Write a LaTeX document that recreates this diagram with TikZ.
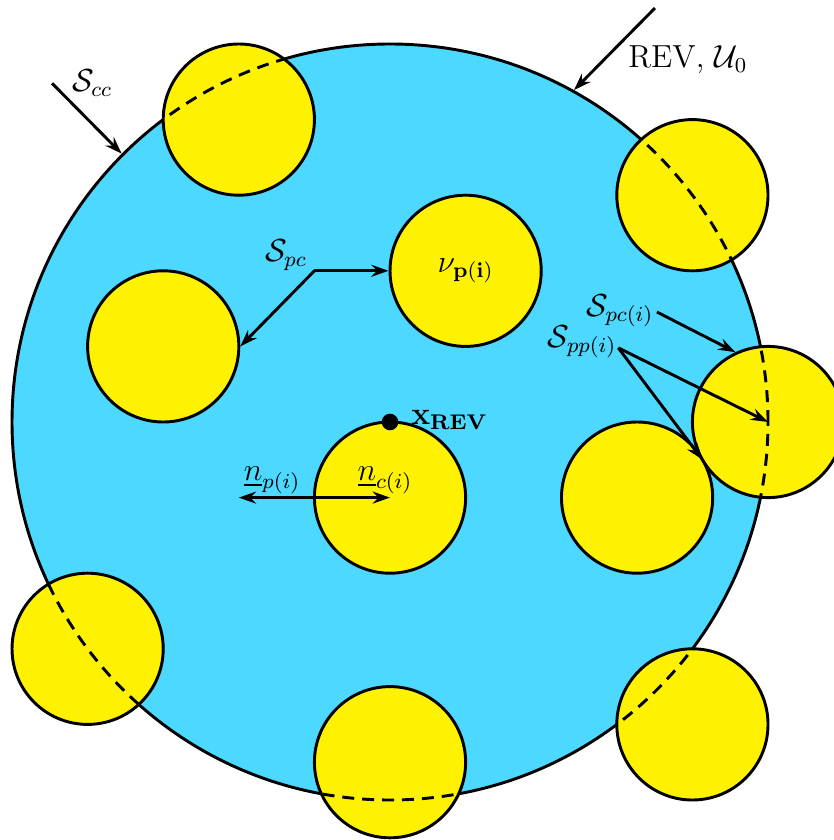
\documentclass[tikz,border=0pt]{standalone}
\usepackage{amsmath}
\usepackage{tikz}
\usetikzlibrary{arrows.meta,calc,positioning}
\definecolor{CellBlue}{RGB}{77,216,255}
\definecolor{GrainYellow}{RGB}{255,242,0}

\begin{document}
\begin{tikzpicture}[x=1cm,y=1cm,every node/.style={font=\large},
    grain/.style={circle,draw=black,fill=GrainYellow,line width=1.1pt,minimum size=2cm,inner sep=0pt},
    link/.style={-{Stealth[length=6.5pt,width=4.5pt,inset=2.2pt]},line width=1.1pt},
    dlink/.style={{Stealth[length=6.5pt,width=4.5pt,inset=2.2pt]}-{Stealth[length=6.5pt,width=4.5pt,inset=2.2pt]},line width=1.1pt},
    rim/.style={line width=1.1pt,dash pattern=on 4.5pt off 3pt}]
    \useasboundingbox (-5.159,-5.529) rectangle (5.860,5.582);
    % the REV and its grains
    \node[circle,draw=black,fill=CellBlue,line width=1.1pt,minimum size=10cm,inner sep=0pt] (rev) at (0,0) {};
    \node[grain] (g1) at (-2,4) {};
    \node[grain] (g2) at (4,3) {};
    \node[grain] (g3) at (1,2) {$\nu_{\mathbf{p(i)}}$};
    \node[grain] (g4) at (-3,1) {};
    \node[grain] (g5) at (0,-1) {};
    \node[grain] (g6) at (3.268,-1) {};
    \node[grain] (g7) at (5,0) {};
    \node[grain] (g8) at (-4,-3) {};
    \node[grain] (g9) at (0,-4.5) {};
    \node[grain] (g10) at (4,-4) {};
    % REV boundary seen through the cut grains
    \foreach \g in {g1,g2,g7,g8,g9,g10}{
      \begin{scope}
        \clip (\g.center) circle (1);
        \draw[rim] (rev.center) circle (5);
      \end{scope}}
    % labels
    \node (scc) at (-3.94,4.48) {$\mathcal{S}_{cc}$};
    \node (revlabel) at (3.94,4.79) {REV, $\mathcal{U}_0$};
    \node (spc) at (-1.376,2.209) {$\mathcal{S}_{pc}$};
    \node (spci) at (3.04,1.47) {$\mathcal{S}_{pc(i)}$};
    \node (sppi) at (2.54,1.06) {$\mathcal{S}_{pp(i)}$};
    \node (np) at (-1.56,-0.77) {$\underline{n}_{p(i)}$};
    \node (nc) at (-0.066,-0.77) {$\underline{n}_{c(i)}$};
    \node[circle,fill=black,inner sep=0pt,minimum size=0.22cm] (xdot) at (rev.center) {};
    \node[right=0.04cm of xdot,yshift=0.03cm] (xrev) {$\mathbf{x}_{\mathbf{REV}}$};
    % arrows
    \coordinate (sccstart) at (-4.47,4.48);
    \coordinate (revstart) at (3.505,5.476);
    \coordinate (pccorner) at (-1,2);
    \coordinate (pcistart) at (3.53,1.455);
    \coordinate (ppistart) at (3.02,0.98);
    \coordinate (nend) at (-2,-1);
    \draw[link] (sccstart) -- (rev.135);
    \draw[link] (revstart) -- (rev.61);
    \draw[link] (pccorner) -- (g3.west);
    \draw[link] (pccorner) -- (g4.east);
    \draw[link] (pcistart) -- (g7.115);
    \draw[link] (ppistart) -- (g7.center);
    \draw[link] (ppistart) -- ($(g6.center)!0.5!(g7.center)$);
    \draw[dlink] (nend) -- (g5.center);
\end{tikzpicture}
\end{document}
